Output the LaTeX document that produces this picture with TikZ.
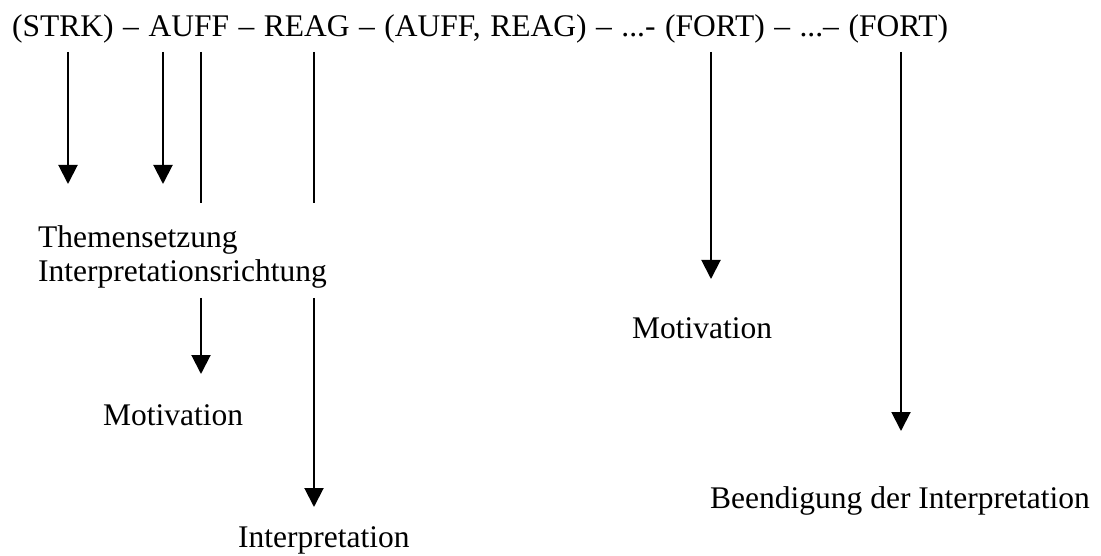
\documentclass[tikz,border=0pt]{standalone}
\usepackage{fontspec}
\setmainfont{Liberation Serif}
\usetikzlibrary{arrows.meta}
\begin{document}
\begin{tikzpicture}[x=1pt,y=-1pt,
  lbl/.style={anchor=base west,inner sep=0pt,font=\fontsize{31.5}{35}\selectfont},
  conn/.style={line width=2pt},
  arr/.style={conn,-{Triangle[length=19pt,width=19pt]}}]
\useasboundingbox (0,0) rectangle (1101,556);
\node[lbl] (top) at (12,37) {\makebox[936pt][s]{(STRK) – AUFF – REAG – (AUFF, REAG) – ...- (FORT) – ...– (FORT)}};
\node[lbl] (them) at (38,248) {Themensetzung};
\node[lbl] (irich) at (38,282) {Interpretationsrichtung};
\node[lbl] (mot1) at (103,425) {Motivation};
\node[lbl] (interp) at (238,547) {Interpretation};
\node[lbl] (mot2) at (632,338) {Motivation};
\node[lbl] (beend) at (710,508) {Beendigung der Interpretation};
% start and end coordinates
\coordinate (s1) at (68,52);  \coordinate (e1) at (68,184);
\coordinate (s2) at (163,52); \coordinate (e2) at (163,184);
\coordinate (s3) at (201,52); \coordinate (e3) at (201,203);
\coordinate (s4) at (314,52); \coordinate (e4) at (314,203);
\coordinate (s5) at (201,298); \coordinate (e5) at (201,374);
\coordinate (s6) at (314,298); \coordinate (e6) at (314,507);
\coordinate (s7) at (711,52); \coordinate (e7) at (711,279);
\coordinate (s8) at (901,52); \coordinate (e8) at (901,431);
\draw[arr] (s1) -- (e1);
\draw[arr] (s2) -- (e2);
\draw[conn] (s3) -- (e3);
\draw[conn] (s4) -- (e4);
\draw[arr] (s5) -- (e5);
\draw[arr] (s6) -- (e6);
\draw[arr] (s7) -- (e7);
\draw[arr] (s8) -- (e8);
\end{tikzpicture}
\end{document}
